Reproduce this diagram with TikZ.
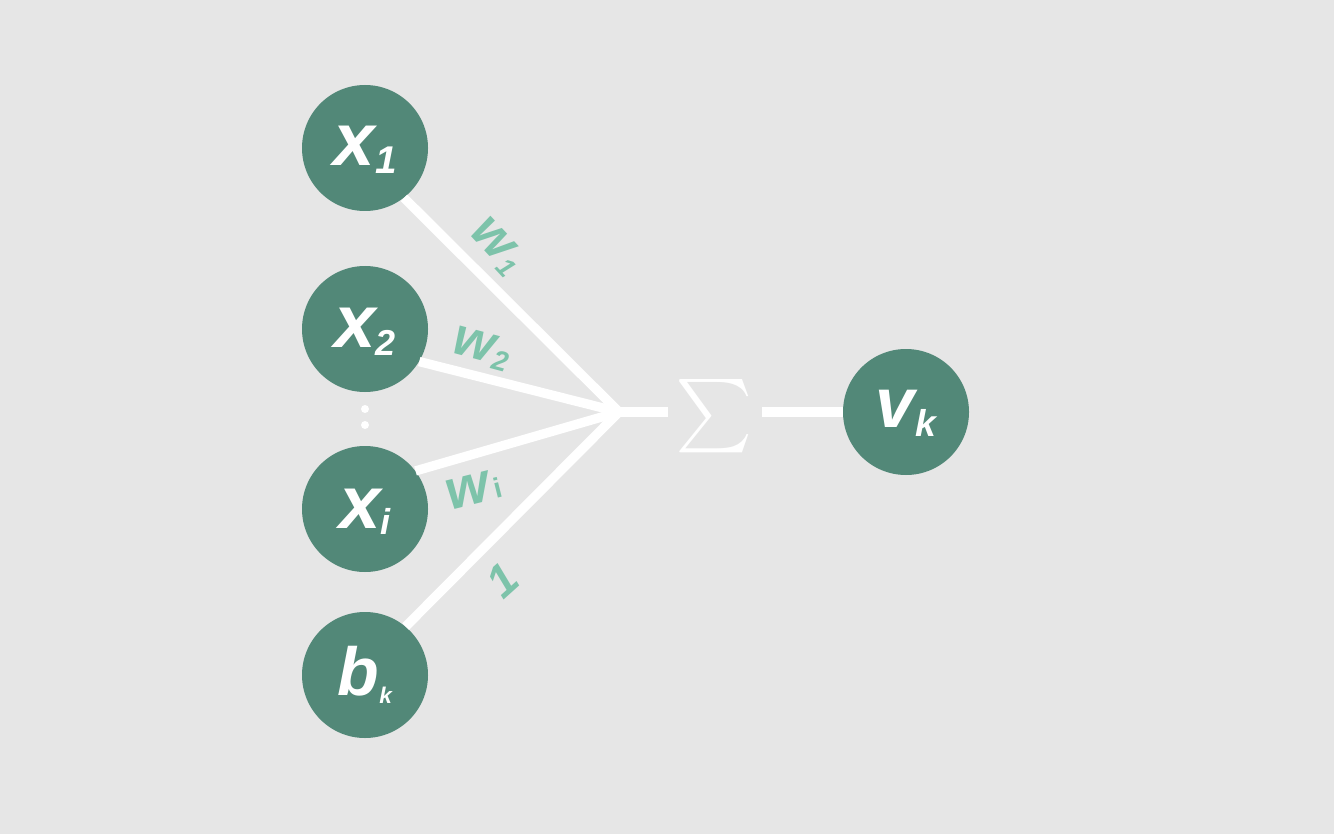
\documentclass[tikz,border=0pt]{standalone}
\usepackage{fontspec}
\usepackage{graphicx}
\setmainfont{Liberation Sans}
\definecolor{bg}{RGB}{230,230,230}
\definecolor{nodegreen}{RGB}{82,136,120}
\definecolor{wgreen}{RGB}{125,195,170}
\newcommand\nlab[6]{\rule{0pt}{#6}{\fontsize{#1}{#1}\selectfont #2}\raisebox{-#5}{\fontsize{#3}{#3}\selectfont #4}}
\begin{document}
\begin{tikzpicture}[x=0.75pt,y=-0.75pt,
  neuron/.style={circle,fill=nodegreen,minimum size=94.5pt,inner sep=0pt,text=white,font=\bfseries\itshape},
  wire/.style={white,line width=7pt},
  wlabel/.style={text=wgreen,font=\bfseries\itshape,inner sep=0pt}]
\fill[bg] (0,0) rectangle (1334,834);
\useasboundingbox (0,0) rectangle (1334,834);
% neurons
\node[neuron] (x1) at (365,148) {\nlab{56}{x}{29}{1}{6pt}{33pt}};
\node[neuron] (x2) at (365,329) {\nlab{56}{x}{27}{2}{6pt}{33pt}};
\node[neuron] (xi) at (365,509) {\nlab{56}{x}{27}{i}{4.5pt}{33pt}};
\node[neuron] (bk) at (365,675) {\nlab{51}{b}{17}{k}{6pt}{0pt}};
\node[neuron] (vk) at (906,412) {\nlab{53}{v}{28}{k}{7pt}{30pt}};
% vertical dots
\fill[white] (365,409) circle (4);
\fill[white] (365,425) circle (4);
% junction and sum
\coordinate (j) at (619,412);
\coordinate (s1) at (668,412);
\coordinate (s2) at (762,412);
\node[inner sep=0pt,text=white] (sig) at (714,416) {\scalebox{5.5}{$\sum$}};
% wires
\draw[wire] (x1.-52) -- (j);
\draw[wire] (x2.-31) -- (j);
\draw[wire] (xi.37) -- (j);
\draw[wire] (bk.50) -- (j);
\draw[wire] (j) -- (s1);
\draw[wire] (s2) -- (vk);
% weight labels
\node[wlabel,rotate=-47] (w1) at (497,247) {\nlab{40}{w}{20}{\kern1pt 1}{4pt}{0pt}};
\node[wlabel,rotate=-15] (w2) at (482,349) {\nlab{40}{w}{21}{\kern1pt 2}{4pt}{0pt}};
\node[wlabel,rotate=14] (wi) at (474,489) {\nlab{42}{w}{21}{\kern3pt\upshape i}{0pt}{0pt}};
\node[wlabel,rotate=42,font=\bfseries\itshape\fontsize{34}{34}\selectfont] (one) at (502,580) {1};
\end{tikzpicture}
\end{document}
